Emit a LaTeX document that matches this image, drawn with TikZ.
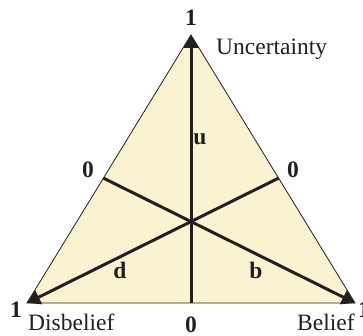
\documentclass[tikz,border=0pt]{standalone}
\usepackage{fontspec}
\setmainfont{Liberation Serif}
\usetikzlibrary{arrows.meta,calc}
\definecolor{fillyellow}{RGB}{250,243,209}
\definecolor{ink}{RGB}{35,31,32}
\begin{document}
\begin{tikzpicture}[x=1pt,y=-1pt,
  lbl/.style={font=\fontsize{23.5}{25}\selectfont, inner sep=0pt, text=ink, text depth=0pt},
  num/.style={font=\fontsize{23.5}{25}\selectfont\bfseries, inner sep=0pt, text=ink, text depth=0pt},
  axisline/.style={line width=3pt, draw=ink, -{Triangle[length=13pt,width=15pt]}},
  tri/.style={fill=fillyellow, draw=ink, line width=0.8pt}]
\useasboundingbox (0,0) rectangle (363,336);
\coordinate (U) at (191,35);
\coordinate (D) at (27,303);
\coordinate (B) at (355,303);
\coordinate (L) at ($(U)!0.534!(D)$);
\coordinate (R) at ($(U)!0.534!(B)$);
\coordinate (M) at ($(D)!0.5!(B)$);
\filldraw[tri] (U) -- (D) -- (B) -- cycle;
\draw[axisline] (M) -- (U);
\draw[axisline] (R) -- (D);
\draw[axisline] (L) -- (B);
\node[num, anchor=base] (n1top) at (191,26) {1};
\node[lbl, anchor=base west] (unc) at (216,55) {Uncertainty};
\node[num, anchor=base] (n0l) at (88,178) {0};
\node[num, anchor=base] (n0r) at (293,178) {0};
\node[num, anchor=base] (lu) at (200,145) {u};
\node[num, anchor=base] (ld) at (120,278) {d};
\node[num, anchor=base] (lb) at (256,278) {b};
\node[num, anchor=base] (n1l) at (16,317) {1};
\node[lbl, anchor=base west] (dis) at (28,330) {Disbelief};
\node[num, anchor=base] (n0b) at (191,332) {0};
\node[lbl, anchor=base west] (bel) at (297,330) {Belief};
\node[num, anchor=base west] (n1r) at (358,317) {1};
\end{tikzpicture}
\end{document}
